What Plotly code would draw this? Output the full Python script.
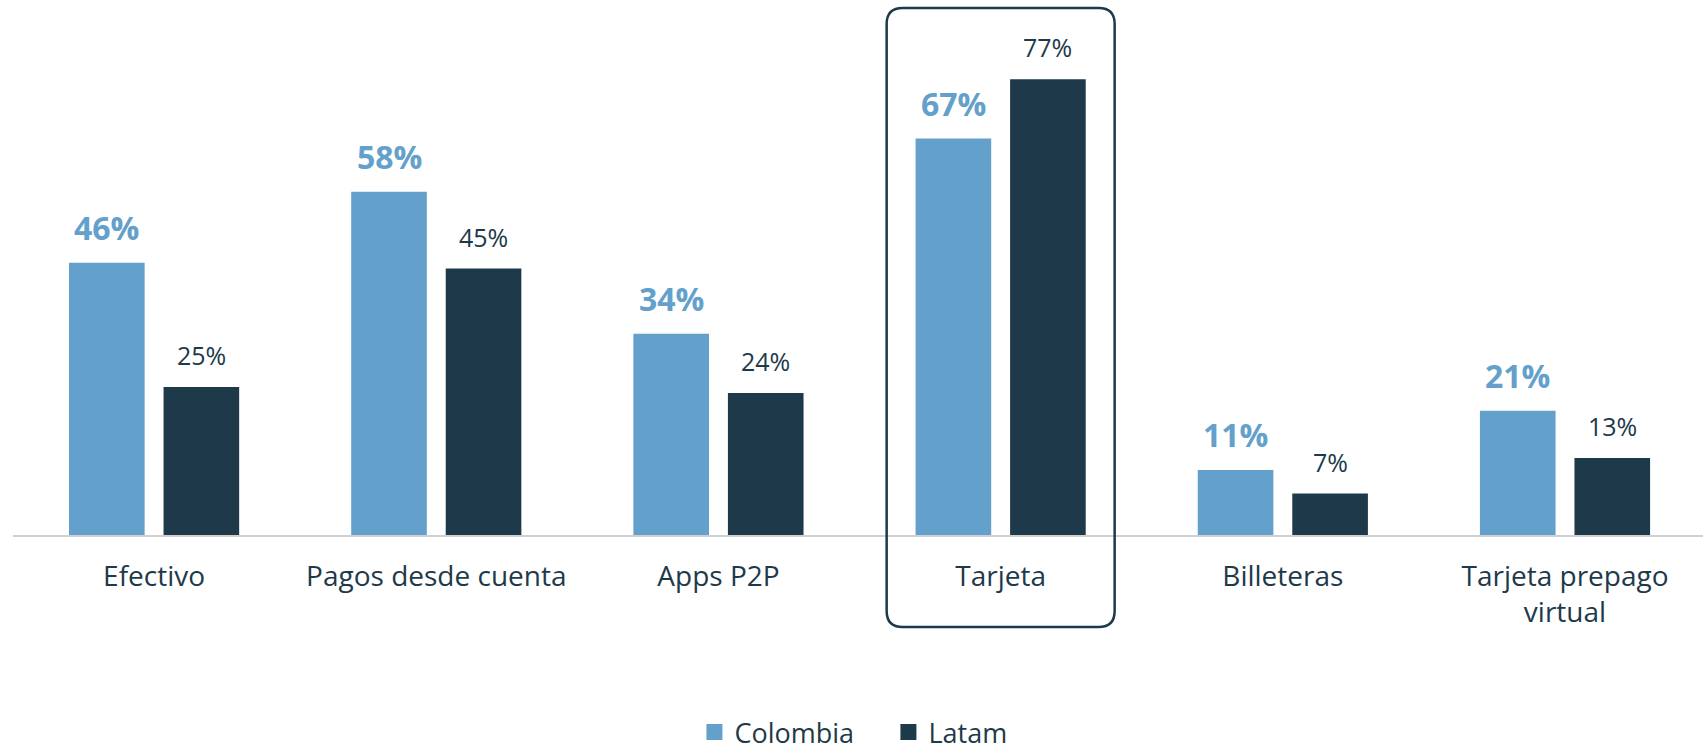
import plotly.graph_objects as go

categories = ["Efectivo", "Pagos desde cuenta", "Apps P2P", "Tarjeta", "Billeteras", "Tarjeta prepago<br>virtual"]
colombia = [46, 58, 34, 67, 11, 21]
latam = [25, 45, 24, 77, 7, 13]
series_names = ["Colombia", "Latam"]
highlight = "Tarjeta"

C_COL = "#63a0cb"
C_LAT = "#1e3a4a"
FONT = "Open Sans"

W, H = 1703, 752
ML, MR, MT, MB = 13, 0, 20, 217
XR = [-0.5, 5.489]
YR = [0, 87]
BARGAP = 0.33
BARGROUPGAP = 0.2

fig = go.Figure()
fig.add_trace(go.Bar(x=categories, y=colombia, name=series_names[0], marker_color=C_COL,
                     marker_line_width=0, showlegend=False))
fig.add_trace(go.Bar(x=categories, y=latam, name=series_names[1], marker_color=C_LAT,
                     marker_line_width=0, showlegend=False))

# legend entries with larger squares
for nm, c in zip(series_names, [C_COL, C_LAT]):
    fig.add_trace(go.Scatter(x=[None], y=[None], mode="markers", name=nm,
                             marker=dict(symbol="square", size=18, color=c)))

unit_px = (W - ML - MR) / (XR[1] - XR[0])
off = unit_px * (1 - BARGAP) / 4

annotations = []
for cat, v in zip(categories, colombia):
    annotations.append(dict(x=cat, y=v, text=f"{v}%", showarrow=False, xshift=-off, yshift=35,
                            yanchor="middle", font=dict(family=FONT, size=32, color=C_COL, weight="bold")))
for cat, v in zip(categories, latam):
    annotations.append(dict(x=cat, y=v, text=f"{v}%", showarrow=False, xshift=off, yshift=32,
                            yanchor="middle", font=dict(family=FONT, size=25, color=C_LAT)))

# rounded highlight box around Tarjeta (pixel-sized, anchored on the category)
hw, top, bot, r = 114, 527, -92, 16
path = (f"M{-hw + r},{top} L{hw - r},{top} Q{hw},{top} {hw},{top - r} "
        f"L{hw},{bot + r} Q{hw},{bot} {hw - r},{bot} L{-hw + r},{bot} "
        f"Q{-hw},{bot} {-hw},{bot + r} L{-hw},{top - r} Q{-hw},{top} {-hw + r},{top} Z")
hx = (categories.index(highlight) - XR[0]) / (XR[1] - XR[0])

fig.update_layout(
    width=W, height=H,
    margin=dict(l=ML, r=MR, t=MT, b=MB),
    paper_bgcolor="white", plot_bgcolor="white",
    barmode="group", bargap=BARGAP, bargroupgap=BARGROUPGAP,
    font=dict(family=FONT, color=C_LAT),
    xaxis=dict(range=XR, showgrid=False, showline=True, linecolor="#d0d0d0", linewidth=2,
               ticks="", tickfont=dict(family=FONT, size=28, color=C_LAT), ticklabelstandoff=15,
               fixedrange=True),
    yaxis=dict(range=YR, visible=False, showgrid=False, zeroline=False),
    legend=dict(orientation="h", x=0.518, xanchor="center", yref="container", y=0.026, yanchor="middle",
                font=dict(family=FONT, size=27, color=C_LAT), itemwidth=30, entrywidthmode="pixels",
                entrywidth=149),
    annotations=annotations,
    shapes=[dict(type="path", xref="paper", yref="paper", xsizemode="pixel", ysizemode="pixel",
                 xanchor=hx, yanchor=0, path=path,
                 line=dict(color=C_LAT, width=2.5), fillcolor="rgba(0,0,0,0)")],
)

fig.write_html("out.html", config={"displayModeBar": False},
               post_script="document.body.style.margin='0';")
